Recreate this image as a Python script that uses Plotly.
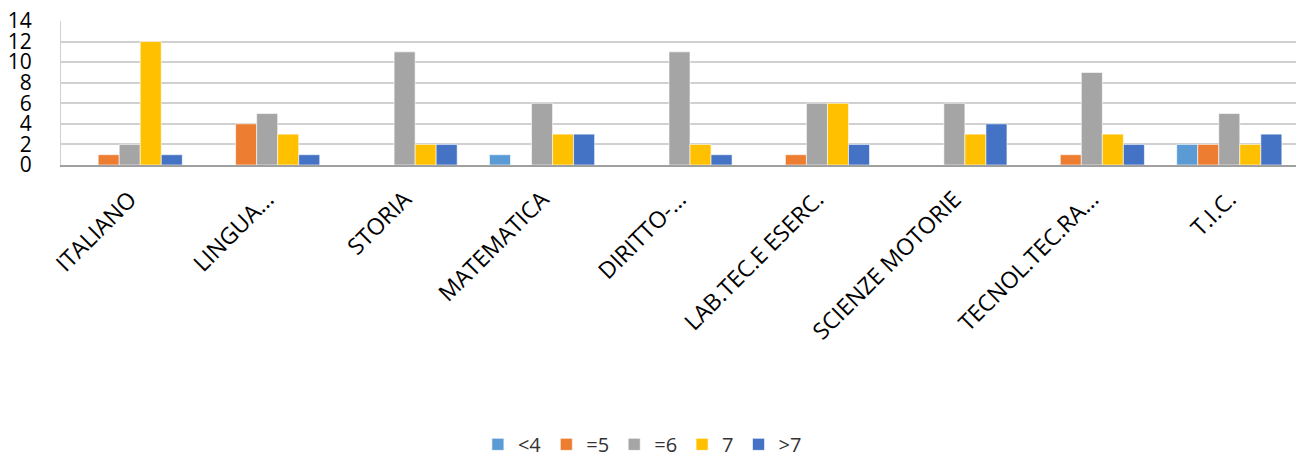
import plotly.graph_objects as go

categories = ["ITALIANO", "LINGUA...", "STORIA", "MATEMATICA", "DIRITTO-...",
              "LAB.TEC.E ESERC.", "SCIENZE MOTORIE", "TECNOL.TEC.RA...", "T.I.C."]
series_names = ["<4", "=5", "=6", "7", ">7"]
lt4 = [0, 0, 0, 1, 0, 0, 0, 0, 2]
eq5 = [1, 4, 0, 0, 0, 1, 0, 1, 2]
eq6 = [2, 5, 11, 6, 11, 6, 6, 9, 5]
v7 = [12, 3, 2, 3, 2, 6, 3, 3, 2]
gt7 = [1, 1, 2, 3, 1, 2, 4, 2, 3]
colors = ["#5B9BD5", "#ED7D31", "#A5A5A5", "#FFC000", "#4472C4"]
y_ticks = [0, 2, 4, 6, 8, 10, 12, 14]

fig = go.Figure()
for name, vals, c in zip(series_names, [lt4, eq5, eq6, v7, gt7], colors):
    fig.add_trace(go.Bar(x=categories, y=vals, name=name, marker_color=c,
                         marker_line=dict(color="rgba(255,255,255,0.6)", width=1)))

# page body adds an 8px margin, so the figure is sized/offset to compensate
fig.update_layout(
    width=1296, height=449,
    barmode="group", bargap=0.235, bargroupgap=0,
    plot_bgcolor="white", paper_bgcolor="white",
    margin=dict(l=53, r=6, t=13, b=292, autoexpand=False),
    font=dict(family="Open Sans", color="black"),
    legend=dict(orientation="h", x=0.47, xanchor="center", y=-1.94, yanchor="middle",
                font=dict(size=20, color="#333333"), itemwidth=30, traceorder="normal"),
    showlegend=True,
)
fig.update_yaxes(range=[0, 14], tickvals=y_ticks, showgrid=True, gridcolor="#D0D0D0", gridwidth=1.5,
                 showline=True, linecolor="#D0D0D0", linewidth=1, zeroline=False, automargin=False,
                 tickfont=dict(size=21, color="black"), ticklabelstandoff=24, fixedrange=True,
                 ticklabeloverflow="allow")
fig.update_xaxes(tickangle=-45, tickfont=dict(size=23, color="black"), showline=True, automargin=False,
                 linecolor="#A0A0A0", linewidth=1.5, ticks="", ticklabelstandoff=10, ticklabelshift=0,
                 ticklabeloverflow="allow")

fig.write_html("out.html")
